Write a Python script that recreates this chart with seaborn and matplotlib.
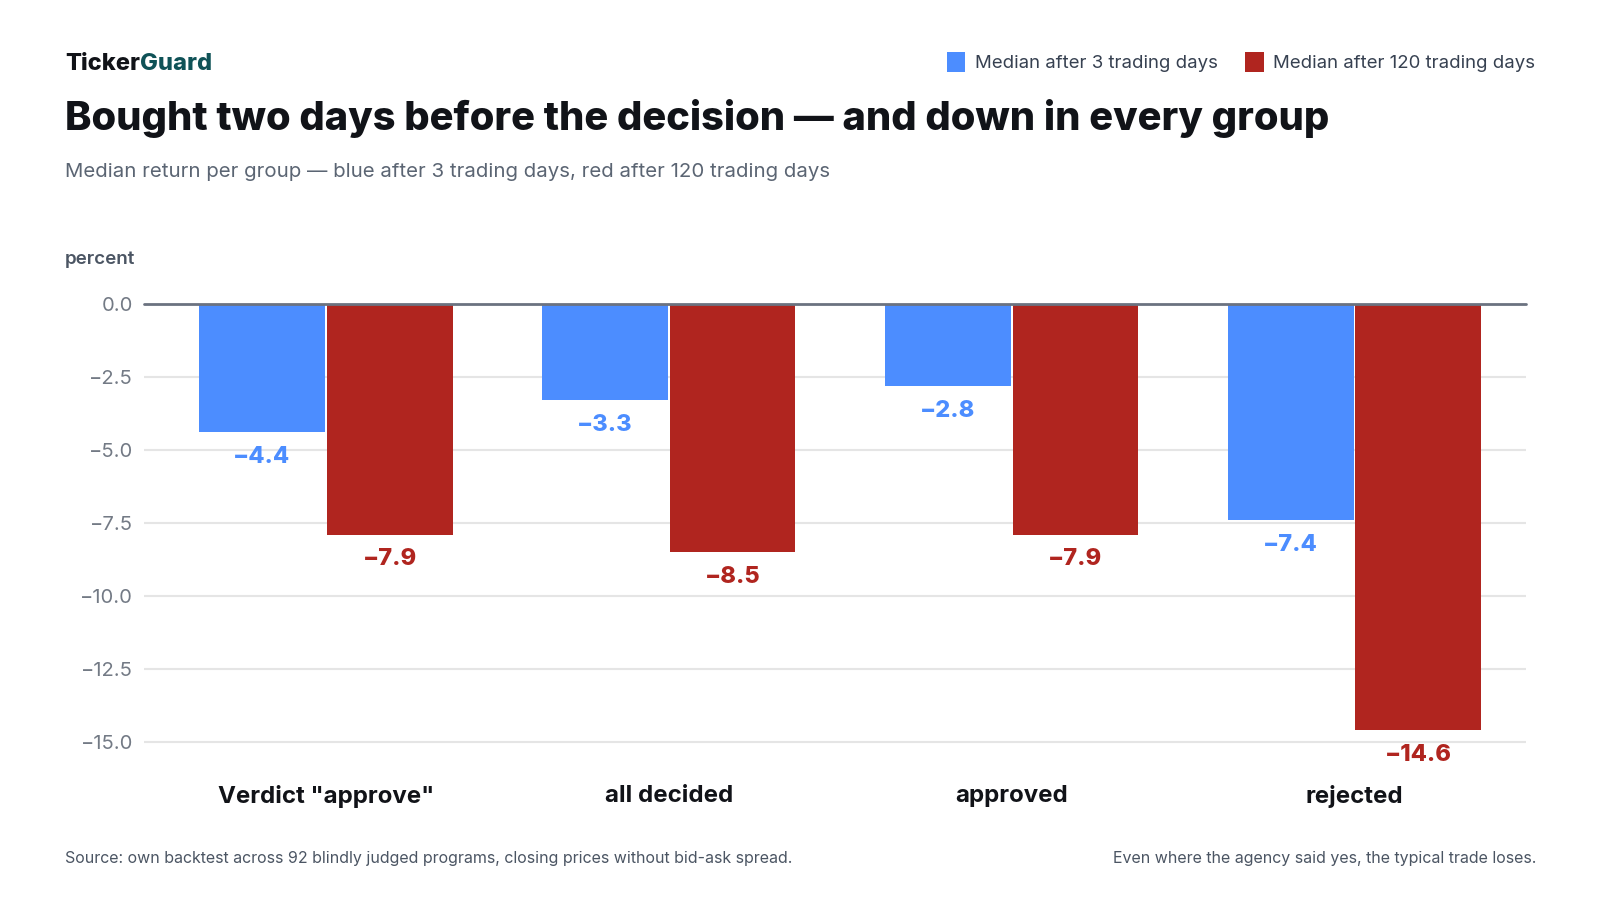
import pandas as pd
import matplotlib.pyplot as plt
import seaborn as sns
from matplotlib.patches import Patch

# data
groups = ['Verdict "approve"', "all decided", "approved", "rejected"]
after_3d = [-4.4, -3.3, -2.8, -7.4]
after_120d = [-7.9, -8.5, -7.9, -14.6]
series = ["Median after 3 trading days", "Median after 120 trading days"]
y_ticks = [0.0, -2.5, -5.0, -7.5, -10.0, -12.5, -15.0]

BLUE = "#4c8dff"
RED = "#b0251f"
INK = "#111318"
GREY = "#6b7280"
TEXT = "#4b5563"

df = pd.DataFrame({
    "group": groups * 2,
    "series": [series[0]] * len(groups) + [series[1]] * len(groups),
    "value": after_3d + after_120d,
})

sns.set_theme(style="white")
plt.rcParams["font.family"] = ["Inter", "DejaVu Sans"]

fig = plt.figure(figsize=(16, 9), dpi=100)
ax = fig.add_axes([0.09, 0.1433, 0.86375, 0.5189])

sns.barplot(data=df, x="group", y="value", hue="series", order=groups,
            hue_order=series, palette=[BLUE, RED], width=0.745, gap=0.015,
            linewidth=0, saturation=1, legend=False, ax=ax)

# value labels under each bar
for cont, col in zip(ax.containers, [BLUE, RED]):
    labels = [f"{v:.1f}".replace("-", "\u2212") for v in cont.datavalues]
    ax.bar_label(cont, labels=labels, padding=10, color=col,
                 fontsize=17, fontweight=800)

ax.set_xlim(-0.53, 3.5)
ax.set_ylim(-16, 0)
ax.set_yticks(y_ticks)
ax.set_yticklabels([f"{t:.1f}".replace("-", "\u2212") for t in y_ticks])
ax.grid(axis="y", color="#e5e5e5", linewidth=1.5)
ax.set_axisbelow(True)
ax.axhline(0, color="#6b7280", linewidth=2, clip_on=False, zorder=5)
sns.despine(ax=ax, left=True, bottom=True, top=True, right=True)
ax.tick_params(axis="y", length=0, labelsize=14.5, labelcolor="#737a85", pad=8)
ax.tick_params(axis="x", length=0, labelsize=17.3, labelcolor=INK, pad=10)
for lab in ax.get_xticklabels():
    lab.set_fontweight("bold")
ax.set_xlabel("")
ax.set_ylabel("")

# header
t1 = fig.text(0.0406, 0.922, "Ticker", fontsize=17, fontweight=800,
              color=INK, va="baseline")
ax.annotate("Guard", xy=(1, 0), xycoords=t1, fontsize=17, fontweight=800,
            color="#0f5257", va="bottom", ha="left", annotation_clip=False)
fig.text(0.0406, 0.856, "Bought two days before the decision \u2014 and down in every group",
         fontsize=28.7, fontweight=800, color=INK, va="baseline")
fig.text(0.0406, 0.803, "Median return per group \u2014 blue after 3 trading days, red after 120 trading days",
         fontsize=14.7, color="#5b6573", va="baseline")
fig.text(0.0406, 0.712, "percent", fontsize=13.5, fontweight="semibold",
         color=TEXT, va="center")

handles = [Patch(facecolor=BLUE, edgecolor="none"),
           Patch(facecolor=RED, edgecolor="none")]
fig.legend(handles, series, loc="center right", bbox_to_anchor=(0.97, 0.931),
           ncol=2, frameon=False, fontsize=13.4, handlelength=1.0,
           handleheight=1.3, handletextpad=0.5, columnspacing=1.5,
           labelcolor="#374151")

# footer
fig.text(0.0406, 0.046, "Source: own backtest across 92 blindly judged programs, closing prices without bid-ask spread.",
         fontsize=11.5, color=TEXT, va="center")
fig.text(0.96, 0.046, "Even where the agency said yes, the typical trade loses.",
         fontsize=11.5, color=TEXT, va="center", ha="right")

fig.savefig("out.png", dpi=100, facecolor="white")
